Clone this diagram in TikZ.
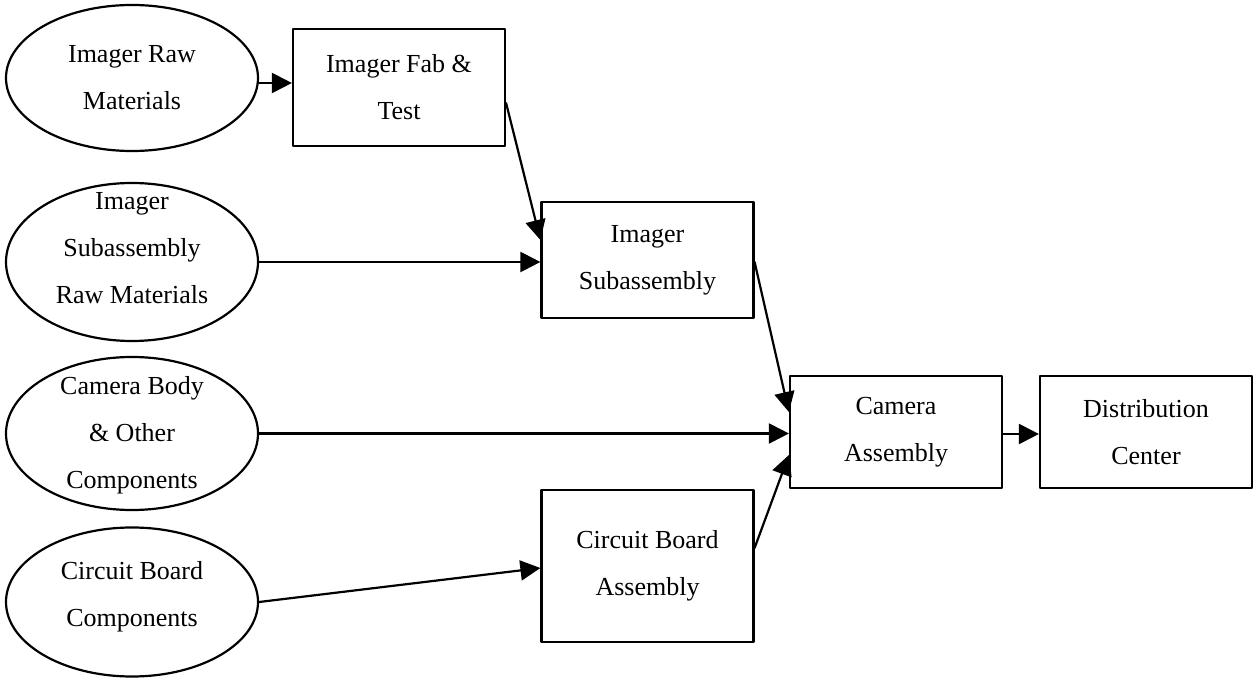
\documentclass[tikz,border=0pt]{standalone}
\usepackage{fontspec}
\setmainfont{Liberation Serif}
\usetikzlibrary{shapes.geometric,arrows.meta}

\begin{document}
\begin{tikzpicture}[x=0.5pt, y=-0.5pt, line cap=round, line join=round,
    font=\fontsize{13}{23.5}\selectfont,
    src/.style={draw, ellipse, line width=1.1pt, inner sep=0pt, minimum width=126pt},
    stage/.style={draw, rectangle, line width=1.1pt, align=center, minimum width=106pt},
    every label/.style={align=center, inner sep=0pt},
    flow/.style={line width=1.1pt, -{Triangle[length=10pt, width=10pt]}}]
  \useasboundingbox (0,0) rectangle (1254,679);

  % raw material sources
  \node[src, minimum height=73pt, label={center:{Imager Raw\\Materials}}] (imgraw) at (132,78) {};
  \node[src, minimum height=79pt, label={[yshift=7pt]center:{Imager\\Subassembly\\Raw Materials}}] (subraw) at (132,262) {};
  \node[src, minimum height=76.5pt, label={[yshift=-1pt]center:{Camera Body\\\& Other\\Components}}] (body) at (132,433.5) {};
  \node[src, minimum height=74.5pt, label={[yshift=2.5pt]center:{Circuit Board\\Components}}] (cbparts) at (132,602) {};

  % process stages
  \node[stage, minimum height=58.5pt] (fab) at (399,87.5) {Imager Fab \&\\Test};
  \node[stage, minimum height=58pt] (sub) at (647.5,260) {Imager\\Subassembly};
  \node[stage, minimum height=76pt] (cb) at (647.5,566) {Circuit Board\\Assembly};
  \node[stage, minimum height=56pt] (cam) at (896,432) {Camera\\Assembly};
  \node[stage, minimum height=56pt] (dist) at (1146,432) {Distribution\\Center};

  % material flow
  \draw[flow] ([yshift=-2.5pt]imgraw.east) -- ([yshift=2.25pt]fab.west);
  \draw[flow] ([yshift=-7.75pt]fab.east) -- ([yshift=10pt]sub.west);
  \draw[flow] (subraw.east) -- ([yshift=-1pt]sub.west);
  \draw[flow] ([yshift=-1pt]sub.east) -- ([yshift=10pt]cam.west);
  \draw[flow] (body.east) -- ([yshift=-0.75pt]cam.west);
  \draw[flow] (cbparts.east) -- ([yshift=-1pt]cb.west);
  \draw[flow] ([yshift=9pt]cb.east) -- ([yshift=-11.5pt]cam.west);
  \draw[flow] ([yshift=-1pt]cam.east) -- ([yshift=-1pt]dist.west);
\end{tikzpicture}
\end{document}
